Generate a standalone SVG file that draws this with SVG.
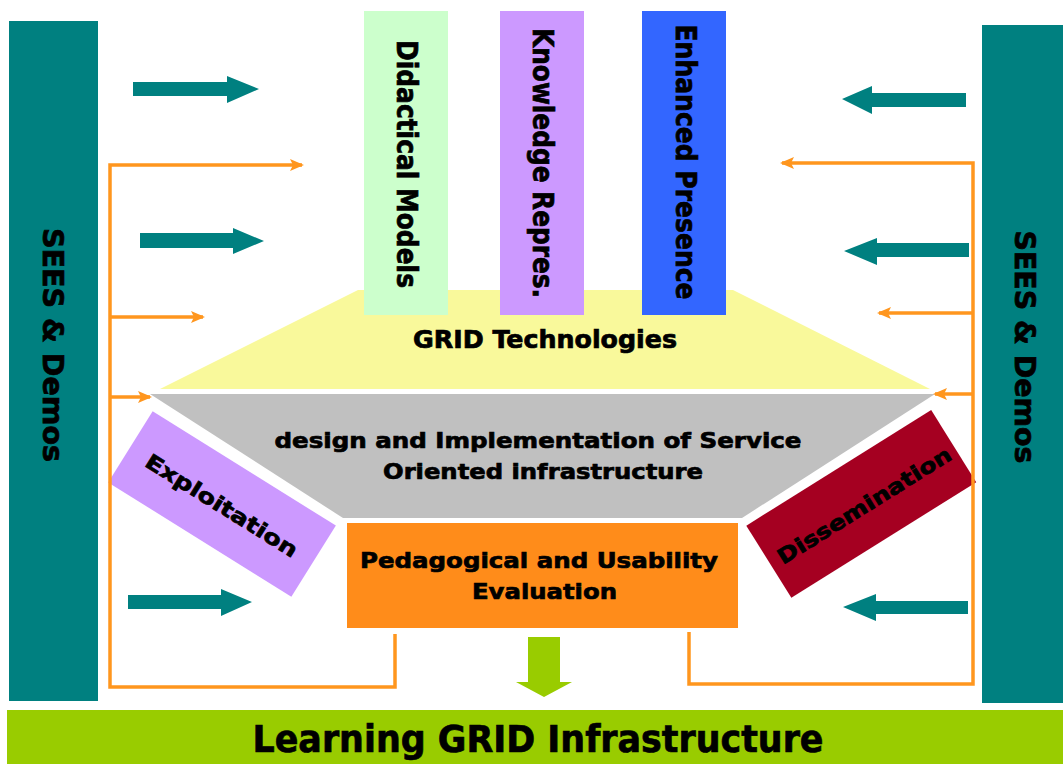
<svg xmlns="http://www.w3.org/2000/svg" width="1063" height="764" viewBox="0 0 1063 764">
<style>
.t{font-family:"DejaVu Sans","Verdana",sans-serif;font-weight:bold;fill:#000;stroke:#000;stroke-width:0.7}
.or{stroke:#FF961E;stroke-width:3.5;fill:none}
.teal{fill:#008080}
</style>
<defs>
<marker id="oa" markerUnits="userSpaceOnUse" markerWidth="14" markerHeight="12" viewBox="0 0 14 12" refX="12" refY="6" orient="auto">
<path d="M0,0 L14,6 L0,12 L3,6 Z" fill="#FF961E"/>
</marker>
</defs>
<rect width="1063" height="764" fill="#fff"/>

<g id="sees-left">
<rect x="9" y="21" width="89" height="680" fill="#008080"/>
<text class="t" font-size="28" text-anchor="middle" transform="translate(53,345) rotate(90)" dy="10" textLength="234" lengthAdjust="spacingAndGlyphs">SEES &amp; Demos</text>
</g>
<g id="sees-right">
<rect x="982" y="25" width="81" height="678" fill="#008080"/>
<text class="t" font-size="28" text-anchor="middle" transform="translate(1025,347) rotate(90)" dy="10" textLength="233" lengthAdjust="spacingAndGlyphs">SEES &amp; Demos</text>
</g>

<g id="learning-grid">
<rect x="7" y="710" width="1056" height="54" fill="#99CC00"/>
<text class="t" font-size="37" x="538" y="752" text-anchor="middle" textLength="571" lengthAdjust="spacingAndGlyphs">Learning GRID Infrastructure</text>
</g>

<g id="grid-tech">
<polygon points="358,290 733,290 930,389 160,389" fill="#F9F99B"/>
<text class="t" font-size="24" x="545" y="348" text-anchor="middle" textLength="264" lengthAdjust="spacingAndGlyphs">GRID Technologies</text>
</g>

<g id="didactical">
<rect x="364" y="11" width="84" height="304" fill="#CCFFCC"/>
<text class="t" font-size="28" text-anchor="middle" transform="translate(407,164) rotate(90)" dy="10" textLength="248" lengthAdjust="spacingAndGlyphs">Didactical Models</text>
</g>
<g id="knowledge">
<rect x="500" y="11" width="84" height="304" fill="#CC99FF"/>
<text class="t" font-size="28" text-anchor="middle" transform="translate(543,163) rotate(90)" dy="10" textLength="270" lengthAdjust="spacingAndGlyphs">Knowledge Repres.</text>
</g>
<g id="enhanced">
<rect x="642" y="11" width="84" height="304" fill="#3366FF"/>
<text class="t" font-size="28" text-anchor="middle" transform="translate(686,162) rotate(90)" dy="10" textLength="275" lengthAdjust="spacingAndGlyphs">Enhanced Presence</text>
</g>

<g id="soi">
<polygon points="150,394 935,394 742,518 343,518" fill="#C0C0C0"/>
<text class="t" font-size="21" x="538" y="448" text-anchor="middle" textLength="527" lengthAdjust="spacingAndGlyphs">design and Implementation of Service</text>
<text class="t" font-size="21" x="543" y="479" text-anchor="middle" textLength="320" lengthAdjust="spacingAndGlyphs">Oriented infrastructure</text>
</g>

<g id="exploitation">
<rect x="-108" y="-42" width="216" height="84" fill="#CC99FF" transform="translate(222,504) rotate(32)"/>
<text class="t" font-size="21" text-anchor="middle" transform="translate(222,505) rotate(32)" dy="8" textLength="175" lengthAdjust="spacingAndGlyphs">Exploitation</text>
</g>

<g id="dissemination">
<rect x="-109" y="-42" width="218" height="85" fill="#A50021" transform="translate(861,503.5) rotate(-32)"/>
<text class="t" font-size="21" text-anchor="middle" transform="translate(864,505) rotate(-32)" dy="8" textLength="201" lengthAdjust="spacingAndGlyphs">Dissemination</text>
</g>

<g id="evaluation">
<rect x="347" y="523" width="391" height="105" fill="#FF8C1A"/>
<text class="t" font-size="22" x="539" y="568" text-anchor="middle" textLength="358" lengthAdjust="spacingAndGlyphs">Pedagogical and Usability</text>
<text class="t" font-size="22" x="544.5" y="599" text-anchor="middle" textLength="145" lengthAdjust="spacingAndGlyphs">Evaluation</text>
</g>

<g id="connectors">
<polyline class="or" points="395,634 395,687 110,687 110,165 302,165" marker-end="url(#oa)"/>
<line class="or" x1="110" y1="317" x2="203" y2="317" marker-end="url(#oa)"/>
<line class="or" x1="110" y1="397" x2="150" y2="397" marker-end="url(#oa)"/>
<polyline class="or" points="689,632 689,684 973,684 973,163 782,163" marker-end="url(#oa)"/>
<line class="or" x1="973" y1="313" x2="879" y2="313" marker-end="url(#oa)"/>
<line class="or" x1="973" y1="394" x2="935" y2="394" marker-end="url(#oa)"/>
<polygon class="teal" points="133,82 227,82 227,76 259,89 227,103 227,96 133,96"/>
<polygon class="teal" points="140,233 233,233 233,228 264,241 233,254 233,248 140,248"/>
<polygon class="teal" points="128,595 221,595 221,589 252,602 221,616 221,609 128,609"/>
<polygon class="teal" points="966,93 872,93 872,86 842,99 872,114 872,107 966,107"/>
<polygon class="teal" points="969,243 877,243 877,238 844,251 877,265 877,257 969,257"/>
<polygon class="teal" points="968,601 876,601 876,594 843,607 876,621 876,614 968,614"/>
<polygon points="528,637 560,637 560,682 572,682 544,697 516,682 528,682" fill="#99CC00"/>
</g>
</svg>
